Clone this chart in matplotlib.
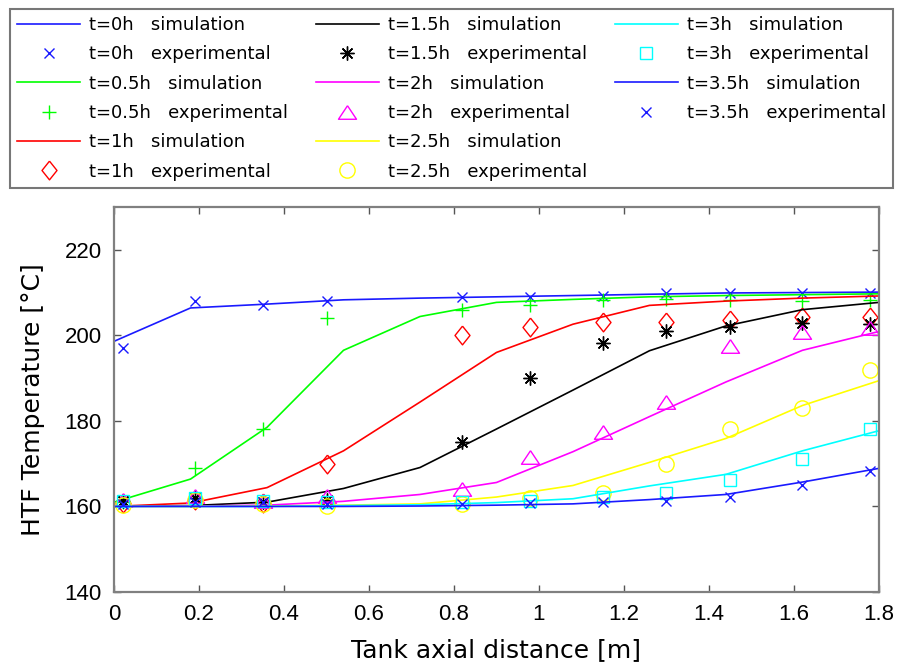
import numpy as np
import matplotlib
matplotlib.use("Agg")
import matplotlib.pyplot as plt
from matplotlib.lines import Line2D

plt.rcParams['font.family'] = ['Liberation Sans', 'DejaVu Sans']

# simulation grid and experimental probe positions [m]
x_sim = [0.0, 0.18, 0.36, 0.54, 0.72, 0.90, 1.08, 1.26, 1.44, 1.62, 1.80]
x_exp = [0.02, 0.19, 0.35, 0.50, 0.82, 0.98, 1.15, 1.30, 1.45, 1.62, 1.78]

labels = ['t=0h', 't=0.5h', 't=1h', 't=1.5h', 't=2h', 't=2.5h', 't=3h', 't=3.5h']
colors = ['#1a1aff', '#00ff00', '#ff0000', '#000000', '#ff00ff', '#ffff00', '#00ffff', '#1a1aff']

sim_0h = [198.6, 206.4, 207.3, 208.3, 208.7, 209.0, 209.3, 209.6, 209.9, 210.0, 210.1]
sim_05h = [161.0, 166.4, 178.5, 196.5, 204.4, 207.7, 208.4, 209.0, 209.3, 209.5, 209.7]
sim_1h = [160.0, 160.8, 164.4, 173.0, 184.4, 196.0, 202.6, 207.0, 208.0, 208.7, 209.2]
sim_15h = [160.0, 160.2, 161.0, 164.2, 169.1, 178.1, 187.2, 196.4, 202.2, 206.0, 207.7]
sim_2h = [160.0, 160.1, 160.3, 161.2, 162.8, 165.6, 172.8, 181.0, 189.1, 196.5, 200.9]
sim_25h = [160.0, 160.0, 160.1, 160.3, 160.6, 162.2, 164.9, 170.3, 175.9, 183.6, 189.4]
sim_3h = [160.0, 160.0, 160.0, 160.2, 160.4, 160.9, 161.8, 164.8, 167.5, 173.0, 177.7]
sim_35h = [160.0, 160.0, 160.0, 160.0, 160.1, 160.3, 160.6, 161.6, 162.8, 165.7, 168.9]

exp_0h = [197.0, 208.0, 207.0, 208.0, 209.0, 209.0, 209.3, 210.0, 210.0, 210.0, 210.0]
exp_05h = [161.0, 169.0, 178.0, 204.0, 206.0, 207.0, 208.3, 208.5, 208.3, 208.0, 208.2]
exp_1h = [160.8, 161.5, 160.8, 170.0, 200.0, 202.0, 203.0, 203.2, 203.5, 204.2, 204.2]
exp_15h = [161.2, 162.0, 161.0, 161.5, 175.0, 190.0, 198.3, 201.0, 202.0, 202.8, 202.7]
exp_2h = [161.5, 162.5, 161.2, 162.5, 164.0, 171.5, 177.3, 184.3, 197.5, 200.8, 201.8]
exp_25h = [160.3, 161.5, 160.5, 160.2, 160.5, 162.0, 163.2, 170.0, 178.0, 183.0, 192.0]
exp_3h = [161.2, 162.0, 161.2, 161.0, 161.0, 161.2, 162.3, 163.2, 166.2, 171.0, 178.0]
exp_35h = [160.5, 161.0, 161.0, 160.5, 160.5, 160.8, 161.0, 161.2, 162.2, 165.0, 168.2]

sims = [sim_0h, sim_05h, sim_1h, sim_15h, sim_2h, sim_25h, sim_3h, sim_35h]
exps = [exp_0h, exp_05h, exp_1h, exp_15h, exp_2h, exp_25h, exp_3h, exp_35h]

# marker shapes like the matlab ones (tall diamond, wide triangle, asterisk)
diamond = [(0, 1), (0.8, 0), (0, -1), (-0.8, 0), (0, 1)]
triangle = [(0, 0.75), (1, -0.75), (-1, -0.75), (0, 0.75)]
markers = ['x', '+', diamond, (8, 2, 0), triangle, 'o', 's', 'x']
msizes = [7, 9.5, 13.5, 10, 13, 11, 8.8, 7]

fig = plt.figure(figsize=(9.08, 6.69), dpi=100)
ax = fig.add_axes([0.1256, 0.1151, 0.968 - 0.1256, 0.6906 - 0.1151])

handles = []
names = []
for lab, c, m, ms, ys, ye in zip(labels, colors, markers, msizes, sims, exps):
    l, = ax.plot(x_sim, ys, color=c, lw=1.2)
    p, = ax.plot(x_exp, ye, linestyle='none', marker=m, color=c,
                 markerfacecolor='none', markersize=ms, markeredgewidth=1.0)
    handles += [l, p]
    names += [lab + '   simulation', lab + '   experimental']

# two empty slots so the last column holds only four entries
blank = Line2D([], [], linestyle='none')
handles += [blank, blank]
names += ['', '']

ax.set_xlim(0, 1.8)
ax.set_ylim(140, 230)
ax.set_xticks(np.arange(0, 1.81, 0.2))
ax.set_xticklabels(['0', '0.2', '0.4', '0.6', '0.8', '1', '1.2', '1.4', '1.6', '1.8'])
ax.set_yticks([140, 160, 180, 200, 220])
ax.tick_params(direction='in', top=True, right=True, length=5, width=1,
               color='#555555', labelsize=16, pad=9)
for s in ax.spines.values():
    s.set_color('#808080')
    s.set_linewidth(1.6)

ax.set_xlabel('Tank axial distance [m]', fontsize=18, family='DejaVu Sans', labelpad=9)
ax.set_ylabel('HTF Temperature [°C]', fontsize=18, family='DejaVu Sans', labelpad=14)

leg = fig.legend(handles, names, ncol=3, loc='upper left',
                 bbox_to_anchor=(0.011, 0.987, 0.973, 0.0), mode='expand',
                 prop={'family': 'DejaVu Sans', 'size': 13},
                 frameon=True, fancybox=False, borderaxespad=0,
                 handlelength=3.5, handletextpad=0.5, labelspacing=0.63,
                 borderpad=0.4, columnspacing=0.6)
leg.get_frame().set_edgecolor('#555555')
leg.get_frame().set_linewidth(1.5)

fig.savefig('out.png', dpi=100)
